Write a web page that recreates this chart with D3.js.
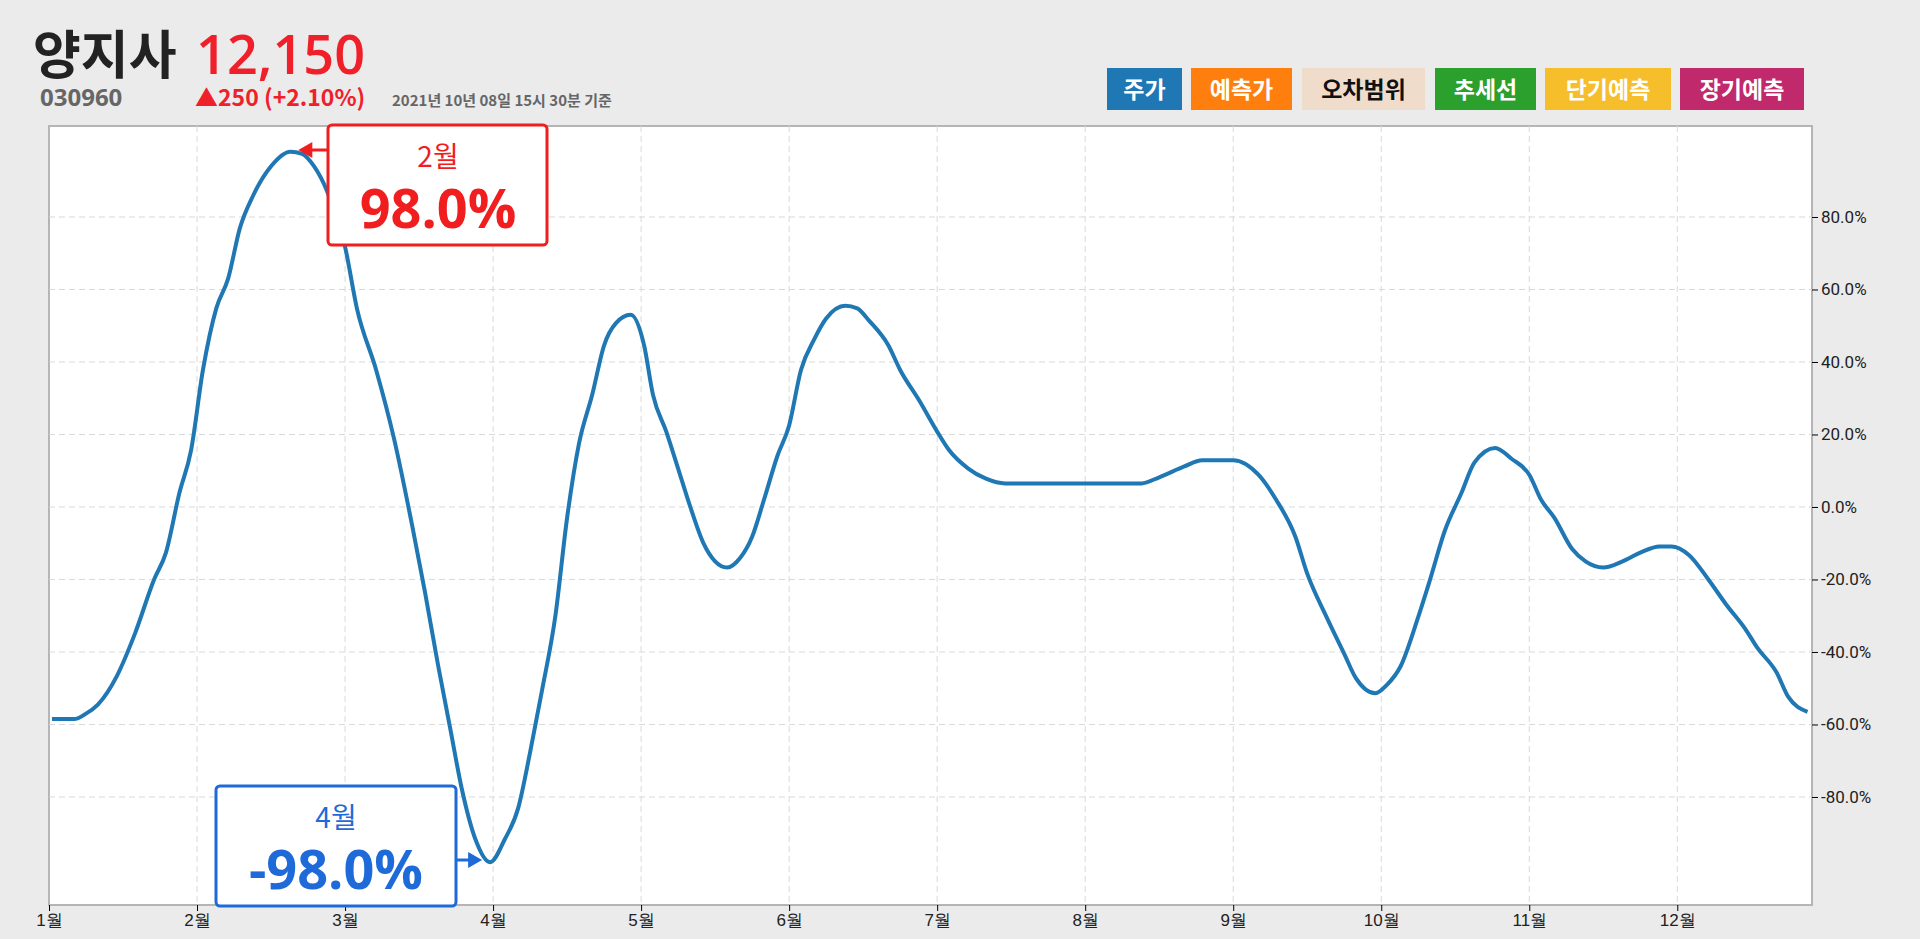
<!DOCTYPE html>
<html><head><meta charset="utf-8">
<script src="https://cdn.jsdelivr.net/npm/d3@7"></script>
<style>
body{margin:0;background:#ebebeb;font-family:"Noto Sans CJK KR","Noto Sans",sans-serif;}
</style></head>
<body><svg id="chart" width="1920" height="939"></svg>
<script>
// 월(0=1월 1일) 위치와 등락률(%)
const months=[0.02,0.17,0.25,0.33,0.46,0.58,0.71,0.79,0.88,0.96,
  1.04,1.13,1.21,1.29,1.38,1.50,1.63,1.71,1.79,1.88,
  2.00,2.08,2.21,2.33,2.46,2.54,2.63,2.71,2.79,2.88,
  2.98,3.08,3.17,3.25,3.33,3.42,3.50,3.58,3.67,3.75,
  3.83,3.93,4.02,4.08,4.17,4.25,4.33,4.42,4.50,4.58,
  4.67,4.75,4.83,4.92,5.00,5.08,5.17,5.25,5.38,5.46,
  5.54,5.67,5.75,5.88,6.00,6.08,6.21,6.33,6.46,7.17,
  7.38,7.50,7.67,7.79,8.00,8.17,8.29,8.42,8.50,8.63,
  8.75,8.83,8.96,9.04,9.13,9.25,9.33,9.43,9.54,9.63,
  9.77,9.88,10.00,10.08,10.17,10.29,10.38,10.50,10.63,10.75,
  10.88,10.96,11.08,11.21,11.33,11.46,11.54,11.67,11.75,11.88];
const values=[-58.5,-58.5,-57,-54.5,-46.5,-35,-20,-12.6,3.7,15.7,
  37.8,54.8,63,77,86,94,98.0,97.4,94,87,
  71.8,54.8,37.8,19,-6.5,-23.5,-44,-61,-78,-91.6,
  -98.0,-91.6,-83,-67.7,-50.7,-30.3,-3,17.4,31,44.6,
  50.7,53,44.6,31,20.8,10.6,0.3,-9.9,-15,-16.7,
  -14,-8.2,2,14,22.5,37.8,46.3,52,55.5,54.8,
  51.4,44.6,37.8,29.3,20.8,15.7,10.6,7.8,6.5,6.5,
  6.5,8.2,11.2,12.9,12.9,8.9,2,-8.2,-18.4,-30.3,
  -40.5,-47.3,-51.4,-49,-44,-30.3,-20,-6.5,3.7,12.3,
  16.3,13.3,8.9,2,-3,-11.6,-15,-16.7,-15,-12.6,
  -10.9,-10.9,-13.3,-20,-26.9,-33.7,-38.8,-45.6,-52.4,-56.5];
const monthLabels=["1월","2월","3월","4월","5월","6월","7월","8월","9월","10월","11월","12월"];
const yTicks=[-80,-60,-40,-20,0,20,40,60,80];
const legendNames=["주가","예측가","오차범위","추세선","단기예측","장기예측"];
const legendColors=["#1f77b4","#ff7f0e","#efdccb","#2ca02c","#f5be2a","#c0296b"];

const svg=d3.select("#chart");
const L=49,R=1812,T=126,B=905;
const x=d3.scaleLinear().domain([0,11.91]).range([L,R]);
const y=d3.scaleLinear().domain([-109.8,105.1]).range([B,T]);

svg.append("rect").attr("x",L).attr("y",T).attr("width",R-L).attr("height",B-T)
  .attr("fill","white").attr("stroke","#b5b5b5").attr("stroke-width",2);

// 격자
svg.append("g").selectAll("line").data(d3.range(1,12)).join("line")
  .attr("x1",d=>x(d)).attr("x2",d=>x(d)).attr("y1",T).attr("y2",B)
  .attr("stroke","#d9d9d9").attr("stroke-dasharray","6,4");
svg.append("g").selectAll("line").data(yTicks).join("line")
  .attr("x1",L).attr("x2",R).attr("y1",d=>y(d)).attr("y2",d=>y(d))
  .attr("stroke","#d9d9d9").attr("stroke-dasharray","6,4");

// 축
const yAxis=svg.append("g").attr("transform",`translate(${R},0)`)
  .call(d3.axisRight(y).tickValues(yTicks).tickFormat(d=>d.toFixed(1)+"%").tickSize(6));
yAxis.select(".domain").remove();
yAxis.selectAll("text").attr("font-size",17).attr("fill","#222").attr("font-family","Roboto,sans-serif");
const xAxis=svg.append("g").attr("transform",`translate(0,${B})`)
  .call(d3.axisBottom(x).tickValues(d3.range(0,12)).tickFormat(i=>monthLabels[i]).tickSize(6));
xAxis.select(".domain").remove();
xAxis.selectAll("text").attr("font-size",17).attr("fill","#222");

// 선
const pts=months.map((m,i)=>[m,values[i]]);
svg.append("path").datum(pts)
  .attr("d",d3.line().x(d=>x(d[0])).y(d=>y(d[1])).curve(d3.curveMonotoneX))
  .attr("fill","none").attr("stroke","#1f77b4").attr("stroke-width",4);

// 주석
const iMax=values.indexOf(d3.max(values)), iMin=values.indexOf(d3.min(values));
function note(i,bx,by,col,lab,arrowY,left){
  const g=svg.append("g");
  const tx=x(months[i])+(left?8:-8), ty=arrowY;
  const ex=left?bx:bx+240;
  g.append("line").attr("x1",ex).attr("y1",ty).attr("x2",tx+(left?10:-10)).attr("y2",ty)
    .attr("stroke",col).attr("stroke-width",3);
  g.append("path").attr("d",left?`M${tx},${ty}l14,-8v16z`:`M${tx},${ty}l-14,-8v16z`).attr("fill",col);
  g.append("rect").attr("x",bx).attr("y",by).attr("width",left?219:240).attr("height",120)
    .attr("rx",4).attr("fill","white").attr("stroke",col).attr("stroke-width",3);
  const cx=bx+(left?110:120);
  g.append("text").attr("x",cx).attr("y",by+42).attr("text-anchor","middle")
    .attr("font-size",28).attr("fill",col).text(lab);
  g.append("text").attr("x",cx).attr("y",by+103).attr("text-anchor","middle")
    .attr("font-size",54).attr("font-weight","bold").attr("fill",col)
    .attr("font-family","'Open Sans',sans-serif").text(values[i].toFixed(1)+"%");
}
note(iMax,328,125,"#f01e1e","2월",150,true);
note(iMin,216,786,"#1e6ad8","4월",860,false);

// 제목
svg.append("text").attr("x",33).attr("y",74).attr("font-size",52).attr("font-weight","bold").attr("fill","#222").text("양지사");
svg.append("text").attr("x",196).attr("y",74).attr("font-size",54).attr("font-weight",600).attr("fill","#f0202a").attr("font-family","'Open Sans',sans-serif").text("12,150");
svg.append("text").attr("x",40).attr("y",106).attr("font-size",24).attr("font-weight","bold").attr("fill","#666").attr("font-family","'Open Sans',sans-serif").text("030960");
svg.append("text").attr("x",195).attr("y",106).attr("font-size",23).attr("font-weight","bold").attr("fill","#f0202a").text("▲250 (+2.10%)");
svg.append("text").attr("x",392).attr("y",106).attr("font-size",15).attr("font-weight","bold").attr("fill","#666").text("2021년 10년 08일 15시 30분 기준");

// 범례
const lx=[1107,1191,1302,1435,1545,1680], lw=[75,101,123,101,126,124];
const lg=svg.append("g").selectAll("g").data(legendNames).join("g");
lg.append("rect").attr("x",(d,i)=>lx[i]).attr("y",68).attr("width",(d,i)=>lw[i]).attr("height",42)
  .attr("fill",(d,i)=>legendColors[i]);
lg.append("text").attr("x",(d,i)=>lx[i]+lw[i]/2).attr("y",98).attr("text-anchor","middle")
  .attr("font-size",23).attr("font-weight","bold").attr("fill",(d,i)=>i==2?"#111":"white").text(d=>d);
</script></body></html>
